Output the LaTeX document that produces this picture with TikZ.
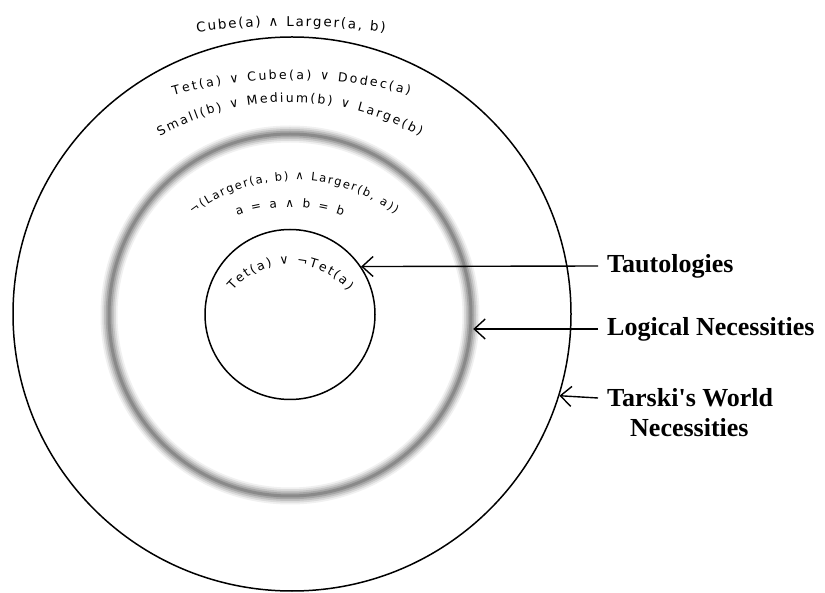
\documentclass[tikz,border=0pt]{standalone}
\usepackage{fontspec}
\usetikzlibrary{arrows.meta,shapes.geometric,decorations.text}
\newfontfamily\lblfont{Liberation Serif}
\newfontfamily\arcfont{DejaVu Sans}
\tikzset{
  ringline/.style={draw=black, line width=1.5pt, inner sep=0pt},
  lbl/.style={anchor=west, inner sep=0pt, font=\lblfont\bfseries\fontsize{26}{30}\selectfont},
  ptr/.style={line width=1.4pt, -{Straight Barb[length=11pt,width=20pt,line width=1.4pt]}},
  arct/.style n args={2}{decorate, decoration={text along path, text align=fit to path,
      text={|\arcfont\fontsize{#1}{#1}\selectfont|#2}}}
}
\begin{document}
\begin{tikzpicture}[x=1pt,y=1pt]
\path[use as bounding box, fill=white] (0,0) rectangle (825,592);
% blurred grey ring (logical necessities)
\node[circle, minimum size=362pt, inner sep=0pt] (ln) at (290,277) {};
\foreach \w/\c in {17/6,13.5/14,10/24,6.5/35,3/46}{
  \draw[line width=\w pt, black!\c] (ln.center) circle[radius=181];
}
% outer (Tarski's World necessities) and inner (tautologies)
\node[ellipse, ringline, minimum width=558pt, minimum height=554pt] (tw) at (292,278) {};
\node[circle, ringline, minimum size=170pt] (ta) at (290,277.5) {};
% curved example sentences
\path[arct={13.5}{Cube(a) ∧ Larger(a, b)}] ([shift={(97.31:739)}]291,-173) arc[start angle=97.31, end angle=82.69, radius=739];
\path[arct={12.5}{Tet(a) ∨ Cube(a) ∨ Dodec(a)}] ([shift={(105.45:443)}]291.5,70) arc[start angle=105.45, end angle=74.55, radius=443];
\path[arct={12.5}{Small(b) ∨ Medium(b) ∨ Large(b)}] ([shift={(119.38:265)}]290,225) arc[start angle=119.38, end angle=60.62, radius=265];
\path[arct={11.5}{¬(Larger(a, b) ∧ Larger(b, a))}] ([shift={(127.47:166)}]294,246) arc[start angle=127.47, end angle=52.53, radius=166];
\path[arct={12}{a = a ∧ b = b}] ([shift={(109.34:160)}]290,225) arc[start angle=109.34, end angle=70.66, radius=160];
\path[arct={12.5}{Tet(a) ∨ ¬Tet(a)}] ([shift={(140.06:75)}]290.5,253) arc[start angle=140.06, end angle=39.94, radius=75];
% labels
\node[lbl] (lt) at (607,326) {Tautologies};
\node[lbl] (ll) at (607,263) {Logical Necessities};
\node[lbl] (lw) at (607,194) {Tarski's World};
\node[lbl] (lw2) at (630,164) {Necessities};
% pointers
\draw[ptr] ([xshift=-9pt]lt.west) -- (ta.34.8);
\draw[ptr] ([xshift=-9pt]ll.west) -- ([xshift=2pt]ll.west -| ln.east);
\draw[ptr] ([xshift=-9pt]lw.west) -- (tw.-17.5);
\end{tikzpicture}
\end{document}
